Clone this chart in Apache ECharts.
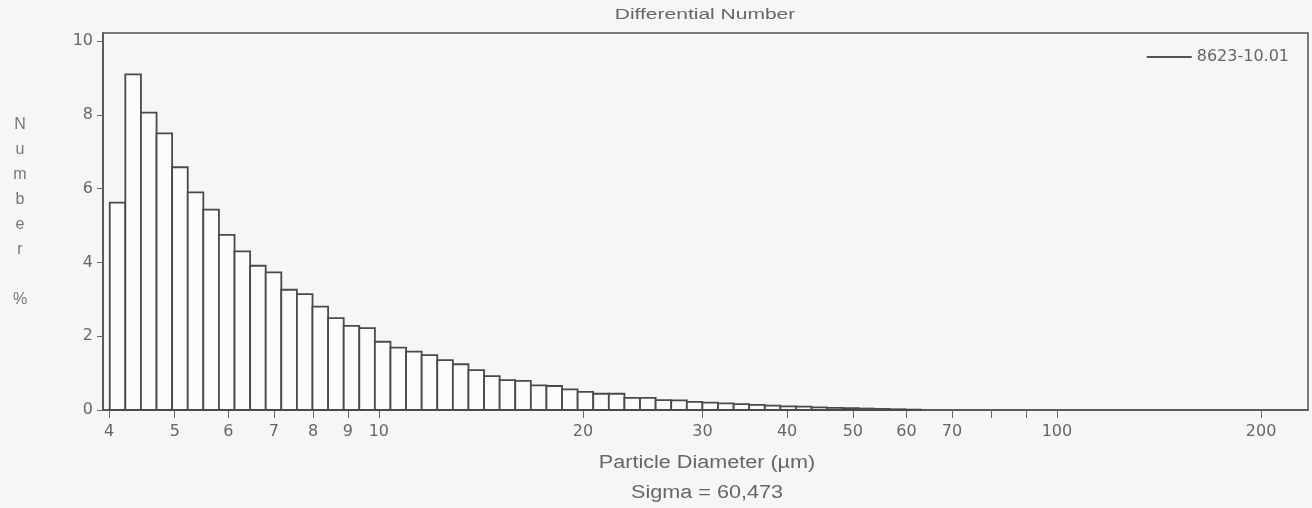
<!DOCTYPE html>
<html>
<head>
<meta charset="utf-8">
<title>Differential Number</title>
<script src="https://cdn.jsdelivr.net/npm/echarts@6/dist/echarts.min.js"></script>
<style>
  html, body { margin: 0; padding: 0; background: #f6f6f4; }
  #chart { width: 1312px; height: 508px; }
</style>
</head>
<body>
<div id="chart"></div>
<script>
// bin edges (µm)
const binEdges = [
  4.010, 4.228, 4.458, 4.701, 4.956, 5.226, 5.510, 5.810, 6.126, 6.459,
  6.810, 7.180, 7.571, 7.983, 8.417, 8.875, 9.357, 9.866, 10.403, 10.969,
  11.565, 12.194, 12.857, 13.557, 14.294, 15.071, 15.891, 16.755, 17.667, 18.627,
  19.641, 20.709, 21.835, 23.023, 24.275, 25.595, 26.987, 28.455, 30.002, 31.634,
  33.354, 35.168, 37.081, 39.098, 41.224, 43.466, 45.830, 48.323, 50.951, 53.722,
  56.644, 59.725, 62.973
];
// differential number %
const numberPct = [
  5.62, 9.10, 8.06, 7.50, 6.58, 5.90, 5.43, 4.75, 4.30, 3.91,
  3.73, 3.26, 3.14, 2.80, 2.49, 2.28, 2.22, 1.85, 1.69, 1.58,
  1.49, 1.35, 1.24, 1.08, 0.92, 0.81, 0.79, 0.67, 0.65, 0.56,
  0.49, 0.44, 0.44, 0.33, 0.33, 0.27, 0.26, 0.22, 0.20, 0.18,
  0.16, 0.14, 0.12, 0.10, 0.09, 0.07, 0.06, 0.05, 0.04, 0.03,
  0.02, 0.01
];
const xTicks = [4, 5, 6, 7, 8, 9, 10, 20, 30, 40, 50, 60, 70, 80, 90, 100, 200];
const xLabels = [4, 5, 6, 7, 8, 9, 10, 20, 30, 40, 50, 60, 70, 100, 200];
const yTicks = [0, 2, 4, 6, 8, 10];
const seriesName = "8623-10.01";

const myChart = echarts.init(document.getElementById("chart"));

const barData = numberPct.map((v, i) => [
  Math.log10(binEdges[i]),
  Math.log10(binEdges[i + 1]),
  v,
]);

const labelFont = { color: "#666", fontFamily: "DejaVu Sans", fontSize: 16 };

const option = {
  backgroundColor: "#f6f6f4",
  animation: false,
  grid: {
    left: 103,
    right: 4,
    top: 33,
    bottom: 98,
    show: true,
    borderColor: "#505050",
    borderWidth: 1.5,
  },
  legend: {
    data: [seriesName],
    right: 18,
    top: 44,
    icon: "rect",
    itemWidth: 45,
    itemHeight: 2,
    itemGap: 10,
    itemStyle: { color: "#555" },
    textStyle: { color: "#666", fontFamily: "DejaVu Sans", fontSize: 16 },
  },
  xAxis: {
    type: "value",
    min: 0.5932,
    max: 2.3702,
    axisLine: { lineStyle: { color: "#505050", width: 1.5 } },
    axisTick: {
      length: 8,
      lineStyle: { color: "#666" },
      customValues: xTicks.map(Math.log10),
    },
    axisLabel: Object.assign({
      margin: 14,
      customValues: xLabels.map(Math.log10),
      formatter: (v) => String(Math.round(Math.pow(10, v))),
    }, labelFont),
    splitLine: { show: false },
  },
  yAxis: {
    type: "value",
    min: 0,
    max: 10.22,
    axisLine: { show: true, lineStyle: { color: "#505050", width: 1.5 } },
    axisTick: {
      show: true,
      length: 6,
      lineStyle: { color: "#666" },
      customValues: yTicks,
    },
    axisLabel: Object.assign({ margin: 10, customValues: yTicks }, labelFont),
    splitLine: { show: false },
  },
  graphic: [
    {
      type: "text",
      x: 705, y: 15,
      scaleX: 1.4,
      style: {
        text: "Differential Number",
        fill: "#666",
        font: "15px 'Liberation Sans'",
        textAlign: "center",
        textVerticalAlign: "middle",
      },
    },
    {
      type: "text",
      x: 707, y: 463,
      scaleX: 1.2,
      style: {
        text: "Particle Diameter (µm)",
        fill: "#666",
        font: "18px 'Liberation Sans'",
        textAlign: "center",
        textVerticalAlign: "middle",
      },
    },
    {
      type: "text",
      x: 707, y: 493,
      scaleX: 1.2,
      style: {
        text: "Sigma = 60,473",
        fill: "#666",
        font: "18px 'Liberation Sans'",
        textAlign: "center",
        textVerticalAlign: "middle",
      },
    },
    {
      type: "text",
      x: 20, y: 112,
      style: {
        text: "N\nu\nm\nb\ne\nr\n\n%",
        fill: "#777",
        font: "16px 'Liberation Sans'",
        lineHeight: 25,
        textAlign: "center",
      },
    },
  ],
  series: [
    {
      name: seriesName,
      type: "custom",
      data: barData,
      encode: { x: [0, 1], y: 2 },
      itemStyle: { color: "#555" },
      renderItem: function (params, api) {
        const topLeft = api.coord([api.value(0), api.value(2)]);
        const bottomRight = api.coord([api.value(1), 0]);
        return {
          type: "rect",
          shape: {
            x: topLeft[0],
            y: topLeft[1],
            width: bottomRight[0] - topLeft[0],
            height: bottomRight[1] - topLeft[1],
          },
          style: { fill: "#fbfbfb", stroke: "#4a4a4a", lineWidth: 1.8 },
        };
      },
    },
  ],
};

myChart.setOption(option);
window.onresize = function () {
  myChart.resize();
};
</script>
</body>
</html>
